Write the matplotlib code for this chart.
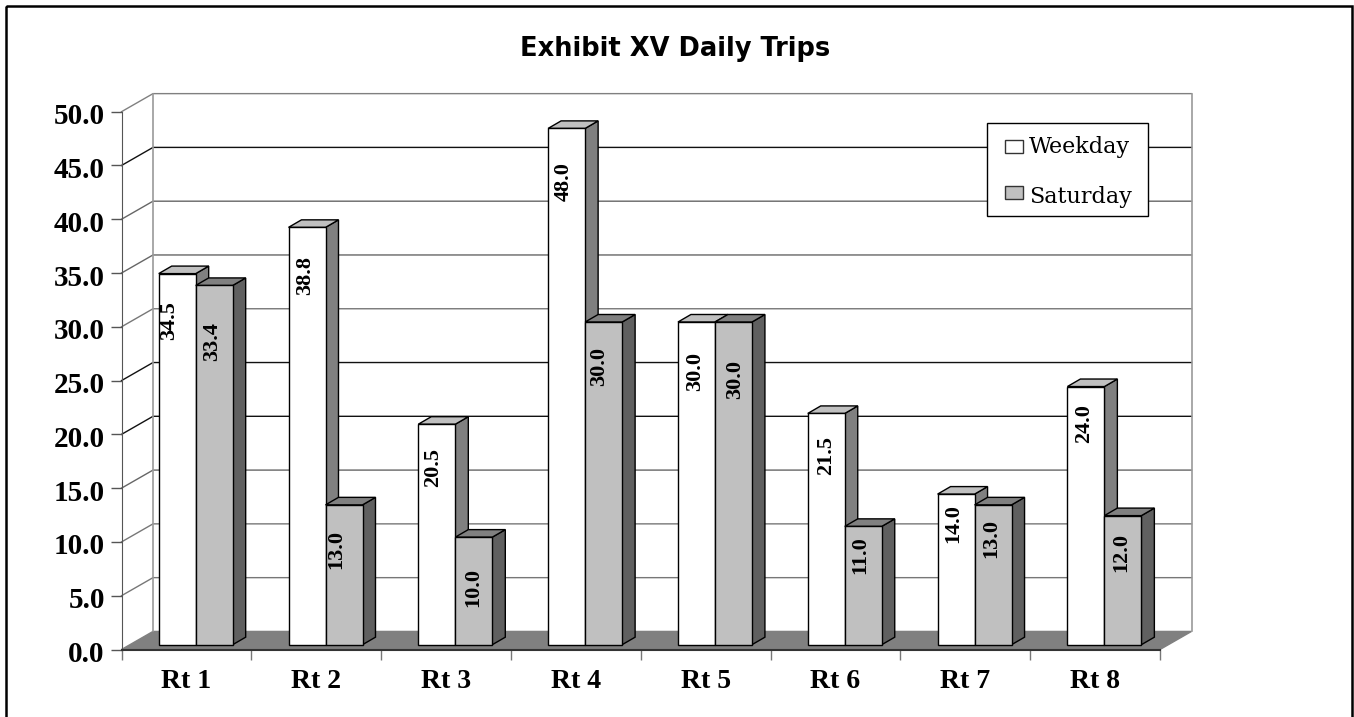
import matplotlib
matplotlib.use("Agg")
import matplotlib.pyplot as plt
from matplotlib.patches import Polygon, Rectangle
from matplotlib.transforms import ScaledTranslation

routes = ["Rt 1", "Rt 2", "Rt 3", "Rt 4", "Rt 5", "Rt 6", "Rt 7", "Rt 8"]
weekday = [34.5, 38.8, 20.5, 48.0, 30.0, 21.5, 14.0, 24.0]
saturday = [33.4, 13.0, 10.0, 30.0, 30.0, 11.0, 13.0, 12.0]
y_ticks = [0, 5, 10, 15, 20, 25, 30, 35, 40, 45, 50]

# grid line shades, 5 up to 50
grid_colors = ["#777777", "#777777", "#666666", "#111111", "#111111",
               "#777777", "#666666", "#666666", "#111111", "#808080"]

# label placement: px below bar top, px left/right of bar centre
drop_weekday = [47.4, 48, 43, 53.6, 49, 41.6, 29, 37]
drop_saturday = [56.5, 44.7, 50, 44, 57, 28.6, 34, 36.4]
shift_weekday = [-8.2, -2, -3.3, -2.6, -1.4, -0.2, -2.5, -1.3]
shift_saturday = [-2.2, -7.5, -0.8, -4.6, 1.6, -2.7, -1.5, -1.3]

SERIF = "Liberation Serif"
PX_X = 129.8   # px per category
PX_Y = 10.756  # px per value unit
WALL_DX, WALL_DY = 0.2427, 1.68
BAR_DX, BAR_DY = 0.1, 0.7
BAR_W = 0.285
BAR_X0 = 0.2866
BAR_BASE = 0.446


def draw_bar(ax, x, val, front, top, side):
    y0 = BAR_BASE
    y1 = BAR_BASE + val
    x1 = x + BAR_W
    ax.add_patch(Polygon([(x1, y0), (x1 + BAR_DX, y0 + BAR_DY), (x1 + BAR_DX, y1 + BAR_DY), (x1, y1)],
                         fc=side, ec="black", lw=1, zorder=3, clip_on=False))
    ax.add_patch(Polygon([(x, y1), (x + BAR_DX, y1 + BAR_DY), (x1 + BAR_DX, y1 + BAR_DY), (x1, y1)],
                         fc=top, ec="black", lw=1, zorder=3, clip_on=False))
    ax.add_patch(Rectangle((x, y0), BAR_W, val, fc=front, ec="black", lw=1, zorder=3, clip_on=False))


def bar_label(ax, xc, val, drop, shift):
    ax.text(xc + shift / PX_X, BAR_BASE + val - drop / PX_Y, "%.1f" % val, rotation=90,
            ha="center", va="center", family=SERIF, weight="bold", fontsize=16, zorder=4)


fig = plt.figure(figsize=(13.54, 7.17), dpi=100)
ax = fig.add_axes([121.5 / 1354, (717 - 649.5) / 717, 1038.5 / 1354, 537.8 / 717])
ax.set_xlim(0, 8)
ax.set_ylim(0, 50)
ax.patch.set_visible(False)

# floor and back wall
ax.add_patch(Polygon([(0, 0), (WALL_DX, WALL_DY), (8 + WALL_DX, WALL_DY), (8, 0)],
                     fc="#808080", ec="#808080", lw=1, zorder=1, clip_on=False))
for v, c in zip(y_ticks[1:], grid_colors):
    ax.plot([0, WALL_DX, 8 + WALL_DX], [v, v + WALL_DY, v + WALL_DY], color=c, lw=1, zorder=1, clip_on=False)
ax.plot([WALL_DX, WALL_DX], [WALL_DY, 50 + WALL_DY], color="#999999", lw=1.2, zorder=1, clip_on=False)
ax.plot([8 + WALL_DX, 8 + WALL_DX], [WALL_DY, 50 + WALL_DY], color="#999999", lw=1.2, zorder=1, clip_on=False)

for i in range(len(routes)):
    x = i + BAR_X0
    draw_bar(ax, x, weekday[i], "white", "#c0c0c0", "#808080")
    draw_bar(ax, x + BAR_W, saturday[i], "#c0c0c0", "#808080", "#606060")
    bar_label(ax, x + BAR_W / 2, weekday[i], drop_weekday[i], shift_weekday[i])
    bar_label(ax, x + BAR_W * 1.5, saturday[i], drop_saturday[i], shift_saturday[i])

for s in ["top", "right"]:
    ax.spines[s].set_visible(False)
ax.spines["left"].set_color("#555555")
ax.spines["bottom"].set_color("#333333")
ax.spines["bottom"].set_linewidth(1.5)
ax.spines["left"].set_zorder(2)
ax.set_yticks(y_ticks)
ax.set_yticklabels(["%.1f" % v for v in y_ticks], family=SERIF, weight="bold", fontsize=21)
ax.tick_params(axis="y", length=8, width=1, color="#555555", pad=4)
nudge = ScaledTranslation(0, -2 / 100, fig.dpi_scale_trans)
for lab in ax.get_yticklabels():
    lab.set_transform(lab.get_transform() + nudge)
ax.set_xticks(range(9))
ax.set_xticklabels([])
ax.tick_params(axis="x", which="major", length=7, width=1, color="#777777")
ax.set_xticks([i + 0.5 for i in range(8)], minor=True)
ax.set_xticklabels(routes, minor=True, family=SERIF, weight="bold", fontsize=20)
ax.tick_params(axis="x", which="minor", length=0, pad=14)

# overlay in pixel coords for title, legend and frame
ov = fig.add_axes([0, 0, 1, 1])
ov.set_xlim(0, 1354)
ov.set_ylim(717, 0)
ov.axis("off")
ov.patch.set_visible(False)
ov.text(675.5, 56, "Exhibit XV Daily Trips", ha="center", va="baseline",
        family="DejaVu Sans", weight="bold", fontsize=18.5)
ov.add_patch(Rectangle((987, 122.5), 160.5, 93, fc="white", ec="black", lw=1))
ov.add_patch(Rectangle((1005, 140), 18, 13, fc="white", ec="#333333", lw=1))
ov.add_patch(Rectangle((1005, 186), 18, 13, fc="#c0c0c0", ec="#333333", lw=1))
ov.text(1029, 153, "Weekday", va="baseline", family="DejaVu Serif", fontsize=16)
ov.text(1029, 202.7, "Saturday", va="baseline", family="DejaVu Serif", fontsize=16)
ov.add_patch(Rectangle((6, 6), 1345.5, 730, fc="none", ec="black", lw=1.8))

fig.savefig("out.png", dpi=100)
